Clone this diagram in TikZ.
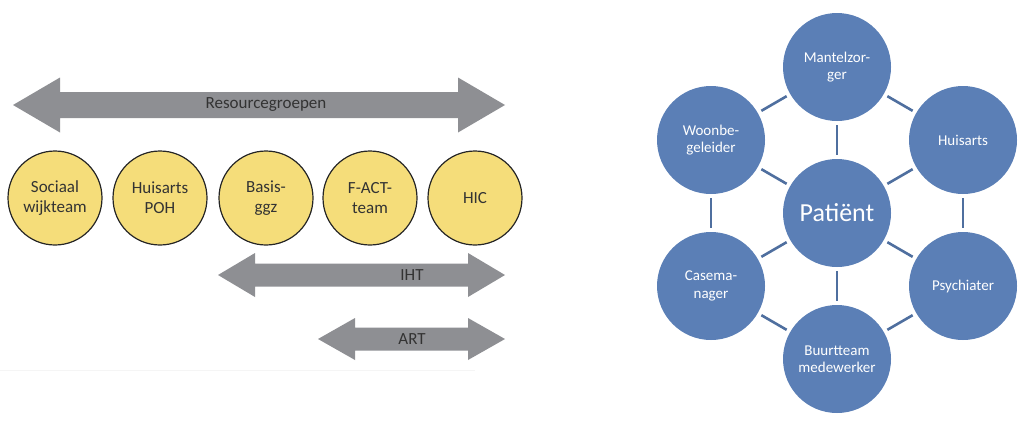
\documentclass[tikz,border=0pt]{standalone}
\usepackage{fontspec}
\setmainfont{Carlito}
\usepackage{tikz}

\definecolor{ggold}{HTML}{F5DD7A}
\definecolor{gblue}{HTML}{5B7FB6}
\definecolor{glink}{HTML}{4F6F9F}
\definecolor{ggray}{HTML}{8E8F93}
\definecolor{gtext}{HTML}{333333}

% #1 left tip, #2 right tip, #3 y, #4 head length, #5 head half, #6 shaft half
\newcommand{\grayarrow}[6]{%
  \fill[ggray] (#1,#3) -- (#1+#4,#3-#5) -- (#1+#4,#3-#6) -- (#2-#4,#3-#6)
    -- (#2-#4,#3-#5) -- (#2,#3) -- (#2-#4,#3+#5) -- (#2-#4,#3+#6)
    -- (#1+#4,#3+#6) -- (#1+#4,#3+#5) -- cycle;}

\begin{document}
\begin{tikzpicture}[x=1pt,y=-1pt]
\tikzset{g/.style={circle,draw=black!85,line width=1.2pt,fill=ggold,minimum size=94pt,inner sep=0pt,
    align=center,text=gtext,font=\fontsize{17}{20}\selectfont},
  lab/.style={text=gtext,font=\fontsize{17}{20}\selectfont},
  p/.style={circle,fill=gblue,minimum size=108pt,inner sep=0pt,align=center,text=white,
    font=\fontsize{15}{17.5}\selectfont},
  link/.style={glink,line width=2.6pt,shorten >=4pt,shorten <=4pt}}
\useasboundingbox (0,0) rectangle (1024,421);

% left: services and arrows
\grayarrow{13}{505}{105}{47}{27.5}{13}
\grayarrow{218}{505}{275}{37}{22}{11.5}
\grayarrow{318}{505}{339}{37}{21}{11.5}
\node[lab] (res) at (266,105) {Resourcegroepen};
\node[lab] (iht) at (412,275) {IHT};
\node[lab] (art) at (412,339) {ART};

\path (55,198) node[g] (sw) {Sociaal\\wijkteam};
\path (160,198) node[g] (poh) {Huisarts\\POH};
\path (266,198) node[g] (ggz) {Basis-\\ggz};
\path (370,198) node[g] (fact) {F-ACT-\\team};
\path (475,198) node[g] (hic) {HIC};

\draw[black!4,line width=0.8pt] (0,370) -- (475,370);

% right: network around the patient
\path (837,213) node[p,font=\fontsize{26}{30}\selectfont] (pat) {Patiënt};
\path (837,67) node[p] (mz) {Mantelzor-\\ger};
\path (963,140) node[p] (ha) {Huisarts};
\path (963,286) node[p] (psy) {Psychiater};
\path (837,359) node[p] (bt) {Buurtteam\\medewerker};
\path (711,286) node[p] (cm) {Casema-\\nager};
\path (711,140) node[p] (wb) {Woonbe-\\geleider};

\foreach \n in {mz,ha,psy,bt,cm,wb}
  \draw[link] (pat) -- (\n);
\draw[link] (mz) -- (ha);
\draw[link] (ha) -- (psy);
\draw[link] (psy) -- (bt);
\draw[link] (bt) -- (cm);
\draw[link] (cm) -- (wb);
\draw[link] (wb) -- (mz);

\end{tikzpicture}
\end{document}
